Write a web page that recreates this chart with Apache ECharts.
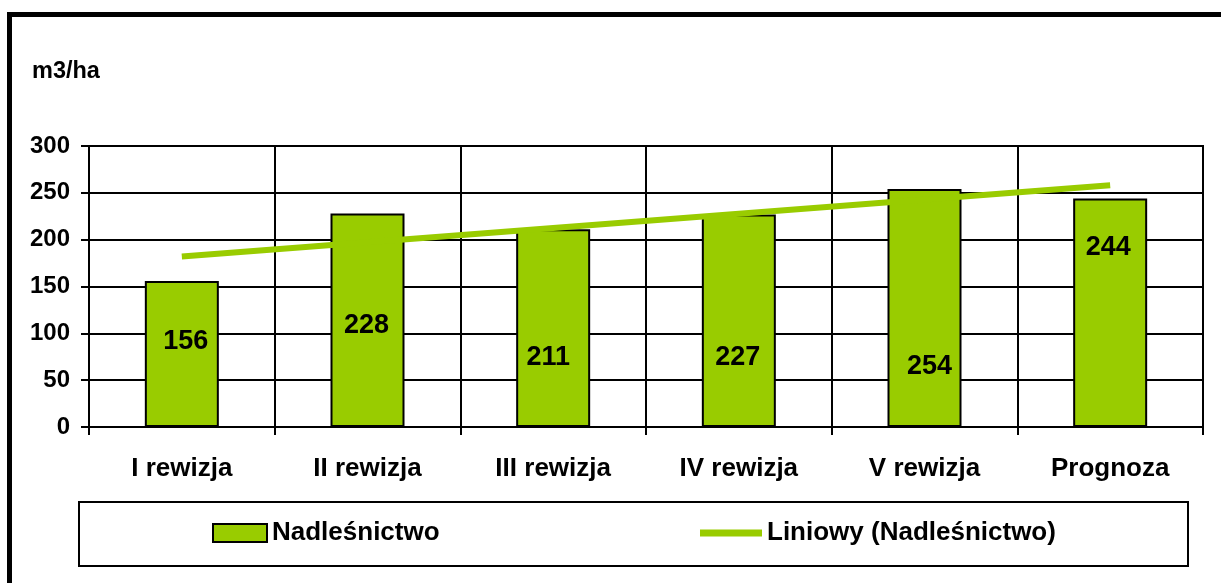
<!DOCTYPE html>
<html lang="pl">
<head>
    <meta charset="UTF-8">
    <title>Nadleśnictwo</title>
    <script src="https://cdn.jsdelivr.net/npm/echarts@6/dist/echarts.min.js"></script>
    <style>
        * {
            margin: 0;
            padding: 0
        }

        html, body {
            width: 100%;
            height: 100%;
            background: #fff;
        }

        #main {
            width: 1221px;
            height: 583px;
        }
    </style>
</head>
<body>
<div id="main"></div>
<script type="text/javascript">
    // dane
    var categories = ['I rewizja', 'II rewizja', 'III rewizja', 'IV rewizja', 'V rewizja', 'Prognoza'];
    var values = [156, 228, 211, 227, 254, 244];
    // linia trendu - tylko punkty końcowe
    var trend = [182, null, null, null, null, 258];
    var yTicks = [0, 50, 100, 150, 200, 250, 300];

    // przesunięcia etykiet (styl, nie dane)
    var labelShift = [[4, -12], [-1, 5], [-5, 29], [-1, 37], [5, 59], [-2, -65]];

    var green = '#99CC00';
    var font = '"Liberation Sans", Arial, sans-serif';
    var legendText = {fontSize: 26, fontWeight: 'bold', color: '#000', fontFamily: font};

    var chart = echarts.init(document.getElementById('main'));
    chart.setOption({
        animation: false,
        backgroundColor: '#fff',
        textStyle: {fontFamily: font},
        graphic: [
            {   // ramka wykresu
                type: 'rect',
                shape: {x: 9.5, y: 14.5, width: 1300, height: 700},
                style: {fill: null, stroke: '#000', lineWidth: 5},
                silent: true
            },
            {   // ramka legendy
                type: 'rect',
                shape: {x: 79, y: 502, width: 1109, height: 64},
                style: {fill: '#fff', stroke: '#000', lineWidth: 2},
                z: 0,
                silent: true
            },
            {
                type: 'text',
                left: 32,
                top: 60,
                style: {text: 'm3/ha', font: 'bold 23.5px ' + font, fill: '#000'}
            }
        ],
        grid: {
            left: 89,
            right: 18,
            top: 146,
            bottom: 156,
            show: true,
            borderColor: '#000',
            borderWidth: 2
        },
        legend: [
            {
                left: 212,
                top: 520,
                padding: 0,
                itemWidth: 54,
                itemHeight: 18,
                icon: 'rect',
                z: 5,
                textStyle: legendText,
                data: ['Nadleśnictwo']
            },
            {
                left: 700,
                top: 520,
                padding: 0,
                itemWidth: 62,
                itemHeight: 7,
                icon: 'rect',
                z: 5,
                itemStyle: {color: green, borderWidth: 0},
                textStyle: legendText,
                data: ['Liniowy (Nadleśnictwo)']
            }
        ],
        xAxis: {
            type: 'category',
            data: categories,
            axisLine: {lineStyle: {color: '#000', width: 2}},
            axisTick: {show: true, length: 8, lineStyle: {color: '#000', width: 2}},
            splitLine: {show: true, lineStyle: {color: '#000', width: 2}},
            axisLabel: {fontSize: 26, fontWeight: 'bold', color: '#000', margin: 29, fontFamily: font}
        },
        yAxis: {
            type: 'value',
            min: yTicks[0],
            max: yTicks[yTicks.length - 1],
            interval: 50,
            axisLine: {show: true, lineStyle: {color: '#000', width: 2}},
            axisTick: {show: true, length: 8, lineStyle: {color: '#000', width: 2}},
            splitLine: {show: true, lineStyle: {color: '#000', width: 2}},
            axisLabel: {fontSize: 24, fontWeight: 'bold', color: '#000', margin: 19, fontFamily: font}
        },
        series: [
            {
                name: 'Nadleśnictwo',
                type: 'bar',
                barWidth: 74,
                itemStyle: {color: green, borderColor: '#000', borderWidth: 2},
                label: {
                    show: true,
                    position: 'inside',
                    fontSize: 27,
                    fontWeight: 'bold',
                    color: '#000',
                    fontFamily: font
                },
                data: values.map(function (v, i) {
                    return {value: v, label: {offset: labelShift[i]}};
                })
            },
            {
                name: 'Liniowy (Nadleśnictwo)',
                type: 'line',
                symbol: 'none',
                connectNulls: true,
                z: 3,
                itemStyle: {color: green},
                lineStyle: {color: green, width: 6, cap: 'butt'},
                data: trend
            }
        ]
    });
</script>

</body>
</html>
